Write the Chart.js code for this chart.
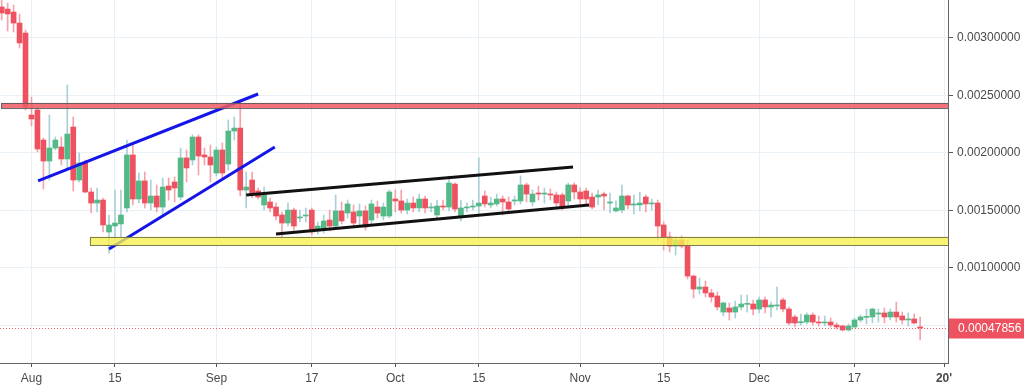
<!DOCTYPE html>
<html>
<head>
<meta charset="utf-8">
<script src="https://cdn.jsdelivr.net/npm/chart.js@4.4.1/dist/chart.umd.min.js"></script>
<style>
  html, body { margin: 0; padding: 0; background: #fff; }
  #wrap { width: 1024px; height: 391px; }
</style>
</head>
<body>
<div id="wrap"><canvas id="chart"></canvas></div>
<script>
// day 0 = 1 Aug 2018
const days = [
  -5, -4, -3, -2, -1, 0, 1, 2, 3, 4, 5, 6, 7, 8, 9, 10, 11, 12, 13, 14,
  15, 16, 17, 18, 19, 20, 21, 22, 23, 24, 25, 26, 27, 28, 29, 30, 31, 32, 33, 34,
  35, 36, 37, 38, 39, 40, 41, 42, 43, 44, 45, 46, 47, 48, 49, 50, 51, 52, 53, 54,
  55, 56, 57, 58, 59, 60, 61, 62, 63, 64, 65, 66, 67, 68, 69, 70, 71, 72, 73, 74,
  75, 76, 77, 78, 79, 80, 81, 82, 83, 84, 85, 86, 87, 88, 89, 90, 91, 92, 93, 94,
  95, 96, 97, 98, 99, 100, 101, 102, 103, 104, 105, 106, 107, 108, 109, 110, 111, 112, 113, 114,
  115, 116, 117, 118, 119, 120, 121, 122, 123, 124, 125, 126, 127, 128, 129, 130, 131, 132, 133, 134,
  135, 136, 137, 138, 139, 140, 141, 142, 143, 144, 145, 146, 147, 148, 149
];

const opens = [
  0.003270, 0.003252, 0.003226, 0.003130, 0.003043, 0.002330, 0.002374, 0.002113, 0.001930, 0.002043,
  0.002052, 0.001948, 0.002226, 0.001765, 0.001913, 0.001661, 0.001565, 0.001591, 0.001313, 0.001365,
  0.001383, 0.001522, 0.001983, 0.001600, 0.001757, 0.001565, 0.001626, 0.001530, 0.001713, 0.001748,
  0.001617, 0.001957, 0.001939, 0.002139, 0.001983, 0.001965, 0.001826, 0.002026, 0.001904, 0.002191,
  0.002217, 0.001678, 0.001765, 0.001670, 0.001548, 0.001574, 0.001530, 0.001461, 0.001391, 0.001504,
  0.001435, 0.001452, 0.001504, 0.001330, 0.001330, 0.001417, 0.001365, 0.001496, 0.001478, 0.001487,
  0.001452, 0.001496, 0.001417, 0.001530, 0.001452, 0.001452, 0.001600, 0.001583, 0.001504, 0.001565,
  0.001522, 0.001600, 0.001522, 0.001461, 0.001539, 0.001530, 0.001730, 0.001443, 0.001522, 0.001530,
  0.001539, 0.001626, 0.001548, 0.001557, 0.001600, 0.001574, 0.001583, 0.001583, 0.001722, 0.001574,
  0.001652, 0.001643, 0.001643, 0.001635, 0.001635, 0.001583, 0.001722, 0.001661, 0.001670, 0.001617,
  0.001617, 0.001643, 0.001565, 0.001496, 0.001504, 0.001626, 0.001548, 0.001548, 0.001617, 0.001557,
  0.001565, 0.001374, 0.001270, 0.001191, 0.001243, 0.001191, 0.000930, 0.000817, 0.000835, 0.000783,
  0.000757, 0.000617, 0.000652, 0.000617, 0.000661, 0.000684, 0.000687, 0.000643, 0.000722, 0.000661,
  0.000670, 0.000722, 0.000643, 0.000574, 0.000524, 0.000530, 0.000591, 0.000530, 0.000522, 0.000530,
  0.000504, 0.000496, 0.000461, 0.000487, 0.000548, 0.000571, 0.000574, 0.000600, 0.000609, 0.000574,
  0.000617, 0.000583, 0.000548, 0.000557, 0.000484
];

const highs = [
  0.003330, 0.003304, 0.003287, 0.003209, 0.003070, 0.002487, 0.002400, 0.002130, 0.002330, 0.002139,
  0.002139, 0.002591, 0.002313, 0.002000, 0.001939, 0.001696, 0.001696, 0.001609, 0.001461, 0.001678,
  0.001678, 0.002113, 0.002070, 0.001826, 0.001835, 0.001765, 0.001722, 0.001783, 0.001783, 0.001791,
  0.002043, 0.002026, 0.002157, 0.002157, 0.002043, 0.002070, 0.002052, 0.002087, 0.002287, 0.002313,
  0.002461, 0.001835, 0.001835, 0.001696, 0.001704, 0.001609, 0.001565, 0.001487, 0.001565, 0.001522,
  0.001504, 0.001522, 0.001522, 0.001400, 0.001461, 0.001504, 0.001635, 0.001574, 0.001591, 0.001548,
  0.001557, 0.001539, 0.001591, 0.001583, 0.001565, 0.001678, 0.001678, 0.001678, 0.001600, 0.001617,
  0.001643, 0.001626, 0.001565, 0.001591, 0.001591, 0.001800, 0.001739, 0.001591, 0.001565, 0.001591,
  0.001957, 0.001670, 0.001617, 0.001643, 0.001626, 0.001617, 0.001626, 0.001800, 0.001739, 0.001678,
  0.001713, 0.001696, 0.001687, 0.001661, 0.001652, 0.001739, 0.001739, 0.001696, 0.001696, 0.001652,
  0.001678, 0.001661, 0.001652, 0.001583, 0.001722, 0.001635, 0.001635, 0.001661, 0.001635, 0.001600,
  0.001591, 0.001400, 0.001313, 0.001270, 0.001278, 0.001243, 0.000939, 0.000913, 0.000887, 0.000817,
  0.000791, 0.000704, 0.000696, 0.000713, 0.000765, 0.000765, 0.000722, 0.000748, 0.000748, 0.000704,
  0.000835, 0.000739, 0.000661, 0.000591, 0.000600, 0.000609, 0.000609, 0.000583, 0.000583, 0.000565,
  0.000522, 0.000504, 0.000513, 0.000565, 0.000591, 0.000643, 0.000652, 0.000643, 0.000652, 0.000643,
  0.000704, 0.000617, 0.000609, 0.000600, 0.000574
];

const lows = [
  0.003157, 0.003061, 0.003052, 0.002913, 0.002374, 0.002235, 0.002009, 0.001687, 0.001765, 0.002026,
  0.001896, 0.001870, 0.001670, 0.001748, 0.001652, 0.001478, 0.001487, 0.001313, 0.001130, 0.001243,
  0.001261, 0.001487, 0.001548, 0.001565, 0.001522, 0.001504, 0.001487, 0.001461, 0.001591, 0.001574,
  0.001591, 0.001748, 0.001896, 0.001809, 0.001896, 0.001748, 0.001800, 0.001765, 0.001852, 0.002113,
  0.001626, 0.001522, 0.001609, 0.001600, 0.001504, 0.001487, 0.001417, 0.001261, 0.001365, 0.001330,
  0.001400, 0.001400, 0.001287, 0.001296, 0.001304, 0.001322, 0.001339, 0.001383, 0.001435, 0.001357,
  0.001374, 0.001330, 0.001383, 0.001435, 0.001417, 0.001435, 0.001487, 0.001478, 0.001470, 0.001487,
  0.001487, 0.001478, 0.001487, 0.001435, 0.001504, 0.001496, 0.001487, 0.001409, 0.001487, 0.001504,
  0.001461, 0.001530, 0.001522, 0.001539, 0.001461, 0.001496, 0.001548, 0.001557, 0.001574, 0.001539,
  0.001591, 0.001565, 0.001591, 0.001539, 0.001504, 0.001539, 0.001600, 0.001548, 0.001539, 0.001513,
  0.001548, 0.001504, 0.001478, 0.001487, 0.001478, 0.001513, 0.001470, 0.001496, 0.001487, 0.001504,
  0.001243, 0.001157, 0.001139, 0.001113, 0.001174, 0.000904, 0.000739, 0.000774, 0.000748, 0.000704,
  0.000635, 0.000583, 0.000548, 0.000565, 0.000635, 0.000617, 0.000591, 0.000609, 0.000609, 0.000574,
  0.000635, 0.000617, 0.000504, 0.000487, 0.000504, 0.000513, 0.000504, 0.000496, 0.000496, 0.000487,
  0.000470, 0.000452, 0.000452, 0.000478, 0.000530, 0.000513, 0.000522, 0.000530, 0.000522, 0.000548,
  0.000530, 0.000513, 0.000496, 0.000513, 0.000374
];

const closes = [
  0.003217, 0.003209, 0.003130, 0.002957, 0.002400, 0.002296, 0.002035, 0.001930, 0.002043, 0.002113,
  0.001948, 0.002165, 0.001765, 0.001913, 0.001661, 0.001565, 0.001591, 0.001374, 0.001374, 0.001391,
  0.001461, 0.001983, 0.001600, 0.001757, 0.001565, 0.001626, 0.001530, 0.001704, 0.001678, 0.001696,
  0.001957, 0.001870, 0.002139, 0.001974, 0.001965, 0.001896, 0.002026, 0.001826, 0.002191, 0.002217,
  0.001678, 0.001704, 0.001652, 0.001617, 0.001635, 0.001522, 0.001452, 0.001391, 0.001504, 0.001365,
  0.001443, 0.001461, 0.001313, 0.001365, 0.001409, 0.001365, 0.001496, 0.001409, 0.001557, 0.001391,
  0.001496, 0.001357, 0.001557, 0.001478, 0.001530, 0.001661, 0.001583, 0.001504, 0.001565, 0.001522,
  0.001600, 0.001522, 0.001530, 0.001539, 0.001530, 0.001739, 0.001513, 0.001522, 0.001530, 0.001539,
  0.001565, 0.001557, 0.001565, 0.001600, 0.001574, 0.001513, 0.001591, 0.001722, 0.001643, 0.001643,
  0.001643, 0.001652, 0.001635, 0.001565, 0.001530, 0.001722, 0.001661, 0.001600, 0.001600, 0.001530,
  0.001635, 0.001626, 0.001574, 0.001522, 0.001626, 0.001548, 0.001557, 0.001565, 0.001557, 0.001565,
  0.001365, 0.001270, 0.001191, 0.001243, 0.001191, 0.000930, 0.000817, 0.000835, 0.000783, 0.000748,
  0.000661, 0.000696, 0.000617, 0.000661, 0.000687, 0.000690, 0.000643, 0.000722, 0.000661, 0.000678,
  0.000678, 0.000643, 0.000522, 0.000522, 0.000533, 0.000591, 0.000530, 0.000522, 0.000530, 0.000504,
  0.000487, 0.000461, 0.000496, 0.000548, 0.000574, 0.000577, 0.000643, 0.000609, 0.000574, 0.000617,
  0.000574, 0.000548, 0.000557, 0.000522, 0.00047856
];

const tickDays = [0, 14, 31, 47, 61, 75, 92, 106, 122, 138, 153];
const tickLabels = ['Aug', '15', 'Sep', '17', 'Oct', '15', 'Nov', '15', 'Dec', '17', "20'"];
const priceTicks = [0.0005, 0.001, 0.0015, 0.002, 0.0025, 0.003];
const priceTickLabels = ['', '0.00100000', '0.00150000', '0.00200000', '0.00250000', '0.00300000'];

// drawn zones (resistance red, support yellow)
const zoneFrom = [-5.1, 9.8];
const zoneTo = [153.7, 153.7];
const zoneLow = [0.002391, 0.001200];
const zoneHigh = [0.002435, 0.001270];
const zoneFill = ['rgba(240, 90, 100, 0.85)', 'rgba(247, 240, 80, 0.8)'];
const zoneEdge = ['rgba(90, 90, 90, 0.9)', 'rgba(110, 110, 60, 0.9)'];

// trend lines
const lineFromX = [1.1, 13.0, 36.0, 41.0];
const lineFromY = [0.001757, 0.001165, 0.001635, 0.001296];
const lineToX = [38.0, 40.8, 90.8, 93.5];
const lineToY = [0.002513, 0.002052, 0.001878, 0.001548];
const lineColors = ['#1515e8', '#1515e8', '#111111', '#111111'];

const upColor = '#53b987';
const downColor = '#ee5260';
const upWick = '#a8d0d6';
const downWick = '#f5a3ab';

const isUp = closes.map((c, i) => c >= opens[i]);
const lastPrice = closes[closes.length - 1];

const trendSets = lineColors.map((col, i) => ({
    type: 'line',
    data: [{ x: lineFromX[i], y: lineFromY[i] }, { x: lineToX[i], y: lineToY[i] }],
    borderColor: col,
    borderWidth: 3,
    pointRadius: 0,
    order: -1
}));

const zonesPlugin = {
    id: 'zones',
    afterDatasetsDraw(chart) {
        const { ctx, chartArea, scales } = chart;
        ctx.save();
        ctx.beginPath();
        ctx.rect(chartArea.left, chartArea.top, chartArea.width, chartArea.height);
        ctx.clip();
        zoneLow.forEach((lo, i) => {
            const x1 = scales.x.getPixelForValue(zoneFrom[i]);
            const x2 = scales.x.getPixelForValue(zoneTo[i]);
            const y1 = scales.y.getPixelForValue(zoneHigh[i]);
            const y2 = scales.y.getPixelForValue(lo);
            ctx.fillStyle = zoneFill[i];
            ctx.fillRect(x1, y1, x2 - x1, y2 - y1);
            ctx.strokeStyle = zoneEdge[i];
            ctx.lineWidth = 1;
            ctx.strokeRect(x1 + 0.5, y1 + 0.5, x2 - x1, y2 - y1);
        });
        ctx.restore();
    }
};

const lastPricePlugin = {
    id: 'lastPrice',
    afterDraw(chart) {
        const { ctx, chartArea, scales, width } = chart;
        const y = Math.round(scales.y.getPixelForValue(lastPrice)) + 0.5;
        ctx.save();
        ctx.strokeStyle = 'rgba(238, 82, 96, 0.9)';
        ctx.setLineDash([1, 2]);
        ctx.lineWidth = 1;
        ctx.beginPath();
        ctx.moveTo(chartArea.left, y);
        ctx.lineTo(chartArea.right, y);
        ctx.stroke();
        ctx.setLineDash([]);
        ctx.fillStyle = '#ee5260';
        ctx.fillRect(chartArea.right + 1, y - 10, width - chartArea.right - 1, 20);
        ctx.fillStyle = '#ffffff';
        ctx.font = '12px Arial, "Liberation Sans", sans-serif';
        ctx.textBaseline = 'middle';
        ctx.fillText(lastPrice.toFixed(8), chartArea.right + 10, y);
        ctx.restore();
    }
};

new Chart(document.getElementById('chart'), {
    type: 'bar',
    data: {
        datasets: [
            {
                label: 'body',
                data: days.map((d, i) => ({ x: d, y: [opens[i], closes[i]] })),
                backgroundColor: isUp.map(u => u ? upColor : downColor),
                barThickness: 5,
                minBarLength: 1,
                grouped: false
            },
            {
                label: 'wick',
                data: days.map((d, i) => ({ x: d, y: [lows[i], highs[i]] })),
                backgroundColor: isUp.map(u => u ? upWick : downWick),
                barThickness: 1,
                grouped: false
            },
            ...trendSets
        ]
    },
    options: {
        responsive: true,
        maintainAspectRatio: false,
        animation: false,
        layout: { padding: 0 },
        plugins: {
            legend: { display: false },
            tooltip: { enabled: false }
        },
        scales: {
            x: {
                type: 'linear',
                min: -5.28,
                max: 153.67,
                offset: false,
                grid: { offset: false, color: '#e9f0f5', tickColor: '#555', tickLength: 4 },
                border: { color: '#666', width: 1 },
                afterBuildTicks: s => { s.ticks = tickDays.map(v => ({ value: v })); },
                afterFit: s => { s.height = 28; s.paddingLeft = 0; s.paddingRight = 0; },
                ticks: {
                    autoSkip: false,
                    maxRotation: 0,
                    color: '#4a4a4a',
                    padding: 4,
                    font: ctx => ({ family: 'Arial, "Liberation Sans", sans-serif', size: 12, weight: ctx.index === tickDays.length - 1 ? 'bold' : 'normal' }),
                    callback: (v, i) => tickLabels[i]
                }
            },
            y: {
                type: 'linear',
                position: 'right',
                min: 0.0001739,
                max: 0.0033304,
                grid: { color: '#e9f0f5', tickColor: '#555', tickLength: 5 },
                border: { color: '#666', width: 1 },
                afterBuildTicks: s => { s.ticks = priceTicks.map(v => ({ value: v })); },
                afterFit: s => { s.width = 76; s.paddingTop = 0; s.paddingBottom = 0; },
                ticks: {
                    color: '#4a4a4a',
                    padding: 4,
                    font: { family: 'Arial, "Liberation Sans", sans-serif', size: 12 },
                    callback: (v, i) => priceTickLabels[i]
                }
            }
        }
    },
    plugins: [zonesPlugin, lastPricePlugin]
});
</script>
</body>
</html>
